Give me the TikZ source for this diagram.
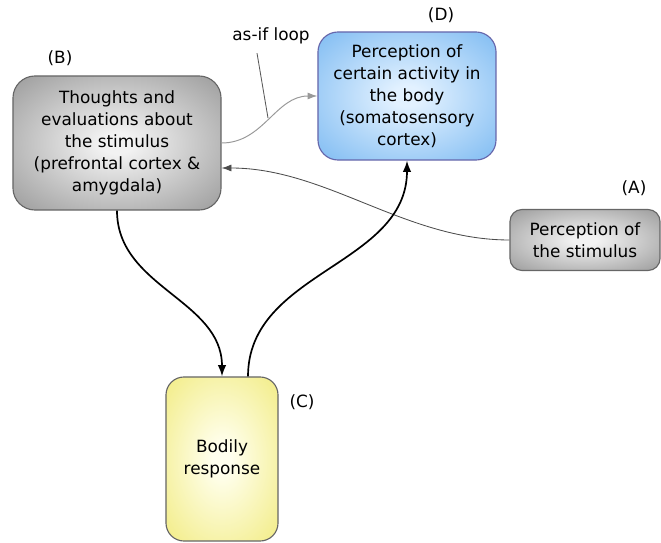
\documentclass[tikz,border=0pt]{standalone}
\usepackage{fontspec}
\setmainfont{DejaVu Sans}
\usepackage{tikz}
\usetikzlibrary{positioning, arrows, arrows.meta}

\definecolor{greyin}{HTML}{F2F2F2}
\definecolor{greyout}{HTML}{9A9A9A}
\definecolor{bluein}{HTML}{E2F1FF}
\definecolor{blueout}{HTML}{7EBBF2}
\definecolor{yellin}{HTML}{FFFFEE}
\definecolor{yellout}{HTML}{F2EC84}

% soft radial fills
\pgfdeclareradialshading{greysoft}{\pgfpoint{0bp}{0bp}}{color(0bp)=(greyin); color(4bp)=(greyin); color(36bp)=(greyout); color(50bp)=(greyout)}
\pgfdeclareradialshading{bluesoft}{\pgfpoint{0bp}{0bp}}{color(0bp)=(bluein); color(4bp)=(bluein); color(36bp)=(blueout); color(50bp)=(blueout)}
\pgfdeclareradialshading{yellsoft}{\pgfpoint{0bp}{0bp}}{color(0bp)=(yellin); color(4bp)=(yellin); color(36bp)=(yellout); color(50bp)=(yellout)}

\tikzset{
  box/.style={draw=black!60, line width=0.8pt, align=center, inner sep=2pt,
    font=\fontsize{12}{15.6}\selectfont},
  greybox/.style={box, shading=greysoft},
  tag/.style={font=\fontsize{12}{14}\selectfont}
}

\begin{document}
\begin{tikzpicture}[x=0.025cm, y=-0.025cm]
\useasboundingbox (0,0) rectangle (661,543);

\node[greybox, minimum width=5.2cm, minimum height=3.35cm, rounded corners=0.55cm] (B) at (117,143)
  {Thoughts and\\evaluations about\\the stimulus\\(prefrontal cortex \&\\amygdala)};
\node[box, shading=bluesoft, draw=black!55!blue!60, minimum width=4.45cm, minimum height=3.2cm, rounded corners=0.5cm] (D) at (407,96)
  {Perception of\\certain activity in\\the body\\(somatosensory\\cortex)};
\node[greybox, minimum width=3.75cm, minimum height=1.525cm, rounded corners=0.3cm] (A) at (585,240)
  {Perception of\\the stimulus};
\node[box, shading=yellsoft, minimum width=2.8cm, minimum height=4.1cm, rounded corners=0.45cm] (C) at (222,459)
  {Bodily\\response};

\node[tag] (tagB) at (60,58) {(B)};
\node[tag] (tagD) at (441,15) {(D)};
\node[tag] (tagA) at (634,188) {(A)};
\node[tag] (tagC) at (302,402) {(C)};
\node[tag] (loop) at (271,36) {as-if loop};

\coordinate (bout) at (B.east |- 0,143);
\coordinate (bin) at (B.east |- 0,168);
\coordinate (din) at (D.west |- 0,96);
\coordinate (pin) at (268,118);

\draw[-{Latex[length=7pt,width=5pt]}, black!40, line width=0.7pt] (bout) to[out=0, in=180] (din);
\draw[black!65, line width=0.6pt] (loop.south) ++(-14,4) -- (pin);
\draw[-{Latex[length=7pt,width=5pt]}, black!70, line width=0.6pt] (A.west) to[out=180, in=0, looseness=0.9] (bin);
\draw[-{Latex[length=8pt,width=6pt]}, line width=1.2pt] (B.south) to[out=-90, in=90] (C.north);
\draw[-{Latex[length=8pt,width=6pt]}, line width=1.2pt] ([xshift=0.65cm]C.north) to[out=90, in=-90] (D.south);
\end{tikzpicture}
\end{document}
